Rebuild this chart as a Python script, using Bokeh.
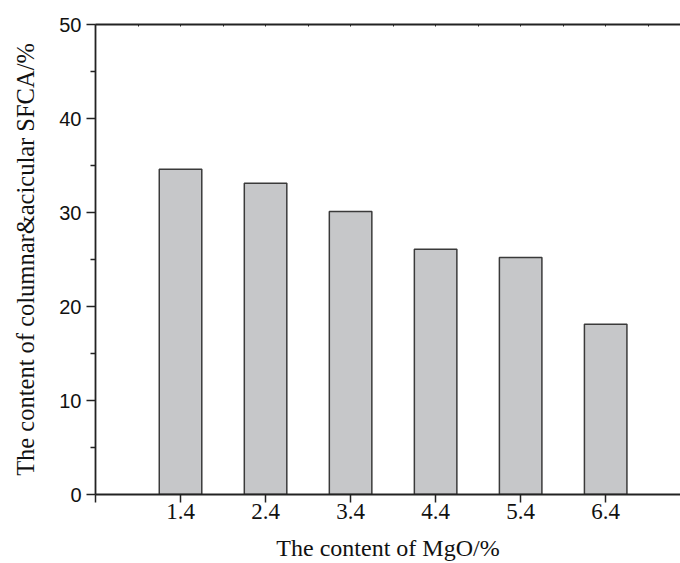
from bokeh.plotting import figure
from bokeh.models import LinearAxis, FixedTicker, Range1d, CustomJSTickFormatter
from bokeh.embed import file_html
from bokeh.resources import INLINE

# data
mgo = [1.4, 2.4, 3.4, 4.4, 5.4, 6.4]
sfca = [34.6, 33.1, 30.1, 26.1, 25.2, 18.1]
x_ticks = [0.4, 1.4, 2.4, 3.4, 4.4, 5.4, 6.4]
x_labels = {0.4: ""}
top_ticks = [0.4, 0.9, 1.4, 1.9, 2.4, 2.9, 3.4, 3.9, 4.4, 4.9, 5.4, 5.9, 6.4, 6.9]
y_ticks = [0, 10, 20, 30, 40, 50]
y_minor = [5, 15, 25, 35, 45]

AX = "#222222"

p = figure(width=680, height=563,
           x_range=Range1d(0.4, 7.28), y_range=Range1d(0, 50),
           output_backend="svg", toolbar_location=None,
           min_border_left=95, min_border_top=24, min_border_right=0,
           min_border_bottom=69)
p.outline_line_color = None
p.xgrid.visible = False
p.ygrid.visible = False
p.background_fill_color = "white"
p.border_fill_color = "white"

p.vbar(x=mgo, top=sfca, width=0.5, bottom=0,
       fill_color="#c6c7c9", line_color="#3a3a3a", line_width=1.5)

# bottom axis
xa = p.xaxis[0]
xa.ticker = FixedTicker(ticks=x_ticks)
xa.major_label_overrides = x_labels
xa.axis_label = "The content of MgO/%"
xa.axis_label_text_font = "Liberation Serif"
xa.axis_label_text_font_size = "24px"
xa.axis_label_text_font_style = "normal"
xa.axis_label_text_color = "#111111"
xa.axis_label_standoff = 13
xa.major_label_text_font = "Liberation Serif"
xa.major_label_text_font_size = "23px"
xa.major_label_text_color = "#111111"
xa.major_label_standoff = 1
xa.major_tick_out = 8
xa.major_tick_in = 0
xa.minor_tick_out = 0
xa.minor_tick_in = 0
xa.axis_line_color = AX
xa.axis_line_width = 1.8
xa.major_tick_line_color = AX
xa.major_tick_line_width = 1.5

# left axis
ya = p.yaxis[0]
ya.ticker = FixedTicker(ticks=y_ticks, minor_ticks=y_minor)
ya.axis_label = "The content of columnar&acicular SFCA/%"
ya.axis_label_text_font = "Liberation Serif"
ya.axis_label_text_font_size = "24.5px"
ya.axis_label_text_font_style = "normal"
ya.axis_label_text_color = "#111111"
ya.axis_label_standoff = 17
ya.major_label_text_font = "Liberation Sans"
ya.major_label_text_font_size = "20px"
ya.major_label_text_color = "#111111"
ya.major_label_standoff = 5
ya.major_tick_out = 9
ya.major_tick_in = 0
ya.minor_tick_out = 5
ya.minor_tick_in = 0
ya.axis_line_color = AX
ya.axis_line_width = 1.8
ya.major_tick_line_color = AX
ya.major_tick_line_width = 1.5
ya.minor_tick_line_color = AX
ya.minor_tick_line_width = 1.5

# top frame line
ta = LinearAxis(ticker=FixedTicker(ticks=top_ticks),
                formatter=CustomJSTickFormatter(code="return ''"))
ta.major_tick_in = 2
ta.major_tick_out = 0
ta.minor_tick_in = 0
ta.minor_tick_out = 0
ta.major_label_standoff = 0
ta.major_label_text_font_size = "1px"
ta.axis_line_color = AX
ta.axis_line_width = 1.8
ta.major_tick_line_color = AX
p.add_layout(ta, "above")

open("out.html", "w").write(file_html(p, INLINE))
